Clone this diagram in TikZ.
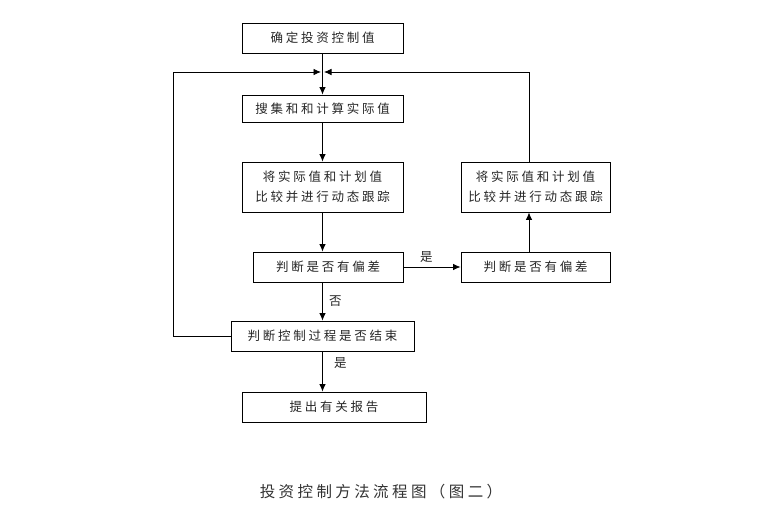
\documentclass[tikz,border=0pt]{standalone}
\usepackage{fontspec}
\newfontfamily\cjk[LetterSpace=22]{Noto Sans CJK SC}
\usetikzlibrary{arrows.meta}
\tikzset{
    box/.style={draw, line width=0.9pt, minimum height=30pt, inner sep=0pt, font=\cjk\fontsize{12.5}{20}\selectfont, text=black!85, align=center},
    arr/.style={-{Latex[length=7.5pt,width=6.5pt]}, line width=0.8pt},
    lbl/.style={font=\cjk\fontsize{12.5}{14}\selectfont, text=black!85}
}
\begin{document}
\begin{tikzpicture}[x=1pt, y=-1pt]
    \useasboundingbox (0,0) rectangle (760,525);

    \node[box, minimum width=161pt] (n1) at (322.5,38) {确定投资控制值};
    \node[box, minimum width=161pt, minimum height=27pt] (n2) at (322.5,108.5) {搜集和和计算实际值};
    \node[box, minimum width=161pt, minimum height=50pt] (n3) at (322.5,187) {将实际值和计划值\\比较并进行动态跟踪};
    \node[box, minimum width=150pt] (n4) at (328,267) {判断是否有偏差};
    \node[box, minimum width=183pt] (n5) at (322.5,336) {判断控制过程是否结束};
    \node[box, minimum width=184pt] (n6) at (334,407) {提出有关报告};
    \node[box, minimum width=149pt, minimum height=50pt] (r1) at (535.5,187) {将实际值和计划值\\比较并进行动态跟踪};
    \node[box, minimum width=149pt] (r2) at (535.5,267) {判断是否有偏差};

    \coordinate (lft) at (173,72);
    \coordinate (rgt) at (529,72);
    \coordinate (jl) at (321,72);
    \coordinate (jr) at (324,72);

    \draw[arr] (n1.south) -- (n2.north);
    \draw[arr] (n2.south) -- (n3.north);
    \draw[arr] (n3.south) -- (n3.south |- n4.north);
    \draw[arr] (n3.south |- n4.south) -- node[lbl, right=3pt] {否} (n5.north);
    \draw[arr] (n5.south) -- node[lbl, right=8pt, pos=0.3] {是} (n5.south |- n6.north);
    \draw[arr] (n4.east) -- node[lbl, above=1pt, pos=0.4] {是} (r2.west);
    \draw[arr] (r2.north -| rgt) -- (r1.south -| rgt);
    \draw[arr] (r1.north -| rgt) -- (rgt) -- (jr);
    \draw[arr] (n5.west) -- (n5.west -| lft) -- (lft) -- (jl);

    \node[font=\cjk\fontsize{15.5}{17}\selectfont, text=black!80] (cap) at (381,492) {投资控制方法流程图（图二）};
\end{tikzpicture}
\end{document}
